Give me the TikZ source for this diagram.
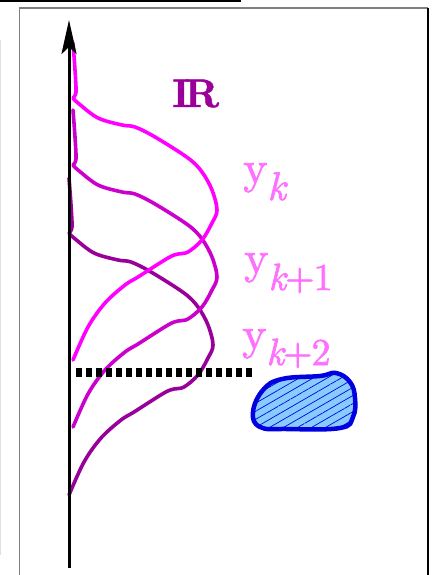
\documentclass[tikz,border=0pt]{standalone}
\usepackage{fontspec}
\newfontfamily\thickrm{lmroman10-regular.otf}[RawFeature={embolden=1.6}, ItalicFont=lmroman10-italic.otf, ItalicFeatures={RawFeature={embolden=1.6}}]
\newfontfamily\thickbf{lmroman10-bold.otf}[RawFeature={embolden=1.2}]
\usetikzlibrary{arrows.meta,patterns.meta}
\definecolor{cA}{HTML}{FF00FF}
\definecolor{cB}{HTML}{CC00CC}
\definecolor{cC}{HTML}{990099}
\definecolor{lab}{HTML}{FF70FF}
\definecolor{blobfill}{HTML}{88CCFF}
\definecolor{blobline}{HTML}{0000E0}
\begin{document}
\begin{tikzpicture}[x=1pt,y=-1pt,
  curve/.style={line width=3.6pt, line join=round, line cap=round},
  ylab/.style={anchor=base west, inner sep=0pt, text=lab, font=\thickrm\fontsize{46}{46}\selectfont}]
\useasboundingbox (0,0) rectangle (431,575);
% frame
\draw[gray!25, line width=1pt] (0.5,40) -- (0.5,555);
\draw[line width=2pt] (0,1) -- (241,1);
\draw[gray, line width=1pt] (19,8) -- (19,580);
\draw[gray, line width=1.2pt] (19,8) -- (428,8);
\draw[black, line width=1.5pt] (428,8) -- (428,580);
% curves
\foreach \dx/\dy/\col in {-4/135/cC, 0/67/cB, 0/0/cA}{
  \draw[curve, \col, shift={(\dx,\dy)}]
    plot[smooth, tension=0.5] coordinates {(73,43) (75,70) (76,92) (73,98)}
    -- plot[smooth, tension=0.55] coordinates {(73,98) (78,103) (98,118) (122,125) (135,127) (155,137) (188,158) (202,172) (212,190) (217,210) (212,223) (202,240) (188,252) (178,254) (168,258) (138,277) (125,285) (105,303) (88,327) (73,360)};
}
% axis
\coordinate (axbot) at (69,568);
\coordinate (axtop) at (69,20);
\draw[line width=3pt, -{Stealth[length=34pt,width=15pt,inset=7pt]}] (axbot) -- (axtop);
% dotted level
\coordinate (d1) at (76,372);
\coordinate (d2) at (253,372);
\draw[line width=9pt, dash pattern=on 6pt off 4pt] (d1) -- (d2);
% blob
\draw[blobline, line width=4.5pt, preaction={fill=blobfill},
      pattern={Lines[angle=30,distance=7pt,line width=0.7pt]}, pattern color=blobline]
  plot[smooth cycle, tension=0.7] coordinates {(253,412) (263,390) (282,379) (320,376) (336,373) (350,382) (355,398) (353,417) (340,428) (287,429) (260,427)};
% labels
\node[anchor=base west, inner sep=0pt, text=cC, font=\thickbf\fontsize{40}{40}\selectfont] (ir) at (172,107) {I\kern-5pt R};
\node[ylab] (yk) at (243,183) {y\raisebox{-17pt}{\fontsize{40}{40}\selectfont\itshape k}};
\node[ylab] (yk1) at (244,273) {y\raisebox{-17pt}{\fontsize{38}{38}\selectfont{\itshape k}\kern-1pt+\kern-1pt1}};
\node[ylab] (yk2) at (242,349) {y\raisebox{-16pt}{\fontsize{38}{38}\selectfont{\itshape k}\kern-1pt+\kern-1pt2}};
\end{tikzpicture}
\end{document}
